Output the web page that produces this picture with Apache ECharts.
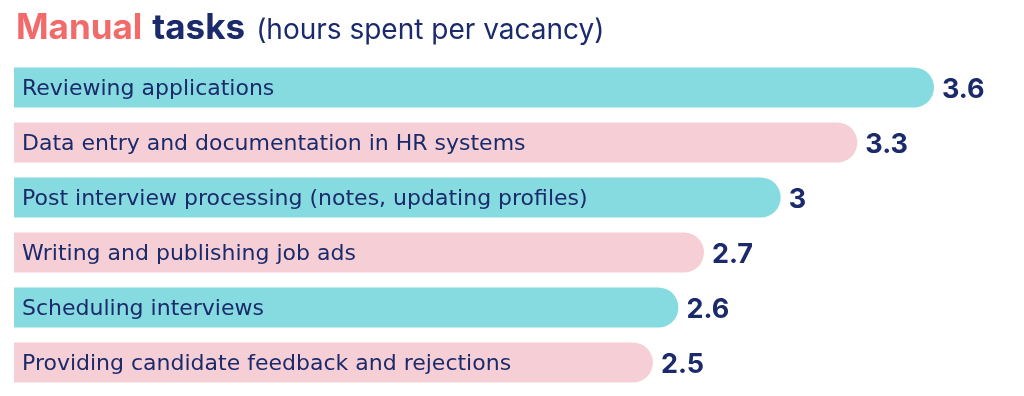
<!DOCTYPE html>
<html><head><meta charset="utf-8">
<script src="https://cdn.jsdelivr.net/npm/echarts@6/dist/echarts.min.js"></script>
<style>html,body{margin:0;padding:0;background:#fff}#c{width:1024px;height:396px}</style>
</head><body><div id="c"></div>
<script>
const categories = [
  "Reviewing applications",
  "Data entry and documentation in HR systems",
  "Post interview processing (notes, updating profiles)",
  "Writing and publishing job ads",
  "Scheduling interviews",
  "Providing candidate feedback and rejections"
];
const hours = [3.6, 3.3, 3, 2.7, 2.6, 2.5];

const NAVY = '#1b2a6b', CYAN = '#86dbe0', PINK = '#f6cfd6', CORAL = '#f26b6b';
const chart = echarts.init(document.getElementById('c'), null, {renderer: 'canvas'});
chart.setOption({
  animation: false,
  title: {
    left: 11, top: 6,
    text: '{a|Manual}{b|tasks}{c|(hours spent per vacancy)}',
    textStyle: {
      rich: {
        a: {color: CORAL, fontFamily: 'Inter', fontWeight: 'bold', fontSize: 35, padding: [0, 10, 0, 0]},
        b: {color: NAVY, fontFamily: 'Inter', fontWeight: 'bold', fontSize: 35, padding: [0, 11, 0, 0]},
        c: {color: NAVY, fontFamily: 'Inter', fontWeight: 'normal', fontSize: 28, padding: [4, 0, 0, 0]}
      }
    }
  },
  grid: {left: 14, top: 60, width: 920, height: 330},
  xAxis: {type: 'value', min: 0, max: 3.6, show: false},
  yAxis: {type: 'category', data: categories, inverse: true, show: false},
  series: [{
    type: 'bar',
    data: hours,
    barWidth: 40,
    itemStyle: {
      borderRadius: [0, 20, 20, 0],
      color: p => p.dataIndex % 2 === 0 ? CYAN : PINK
    },
    label: {
      show: true, position: 'insideLeft', distance: 8, offset: [0, 2],
      formatter: '{b}', color: NAVY, fontFamily: 'DejaVu Sans', fontSize: 22
    }
  }, {
    type: 'bar',
    data: hours,
    barWidth: 40,
    barGap: '-100%',
    itemStyle: {color: 'rgba(0,0,0,0)'},
    label: {
      show: true, position: 'right', distance: 8, offset: [0, 2],
      formatter: '{c}', color: NAVY, fontFamily: 'Inter', fontWeight: 'bold', fontSize: 27
    }
  }]
});
</script></body></html>
